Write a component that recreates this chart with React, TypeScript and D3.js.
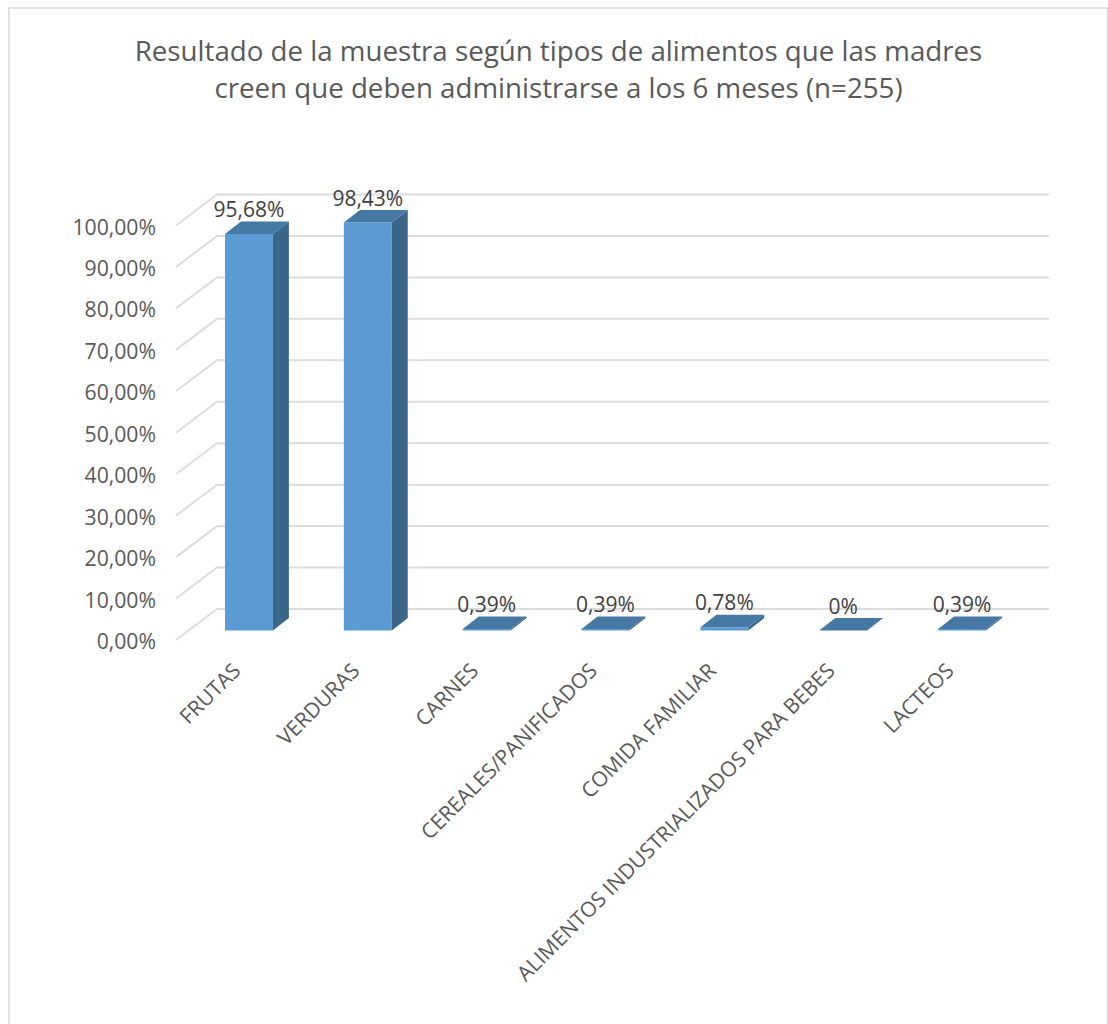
import React from "react";
import * as d3 from "d3";

const categories = [
  "FRUTAS",
  "VERDURAS",
  "CARNES",
  "CEREALES/PANIFICADOS",
  "COMIDA FAMILIAR",
  "ALIMENTOS INDUSTRIALIZADOS PARA BEBES",
  "LACTEOS",
];
const values = [95.68, 98.43, 0.39, 0.39, 0.78, 0, 0.39];
const valueLabels = ["95,68%", "98,43%", "0,39%", "0,39%", "0,78%", "0%", "0,39%"];
const ticks = [0, 10, 20, 30, 40, 50, 60, 70, 80, 90, 100];
const titleLines = [
  "Resultado de la muestra según tipos de alimentos que las madres",
  "creen que deben administrarse a los 6 meses (n=255)",
];

const FONT = "'Open Sans', sans-serif";
const W = 1108;
const H = 1024;

// Plot geometry: the floor's front edge, the depth of the back wall, and the
// shallower depth of each bar, which stands midway on the floor.
const frontLeft = 176;
const floorFrontY = 640;
const wallDx = 41;
const wallDy = 31;
const wallRight = 1049;
const baseY = 630.5;
const barDx = 16;
const barDy = 12.5;
const unitHeight = 414.5;

const gridY = d3.scaleLinear().domain([0, 100]).range([floorFrontY, floorFrontY - unitHeight]);
const y = d3.scaleLinear().domain([0, 100]).range([baseY, baseY - unitHeight]);
const x = d3.scaleBand<string>().domain(categories).range([225, 986]).paddingInner(0.597).paddingOuter(0);

const num = (v: number) => `${v.toFixed(2).replace(".", ",")}%`;

export default function App() {
  const grid = "#dcdcdc";
  return (
    <svg
      width={W}
      height={H}
      style={{ position: "absolute", left: 0, top: 0, display: "block" }}
      fontFamily={FONT}
    >
      <rect x={0} y={0} width={W} height={H} fill="#fff" />
      <path d={`M9 1024V8H1107.5V1024`} fill="none" stroke="#d9d9d9" strokeWidth={1.5} />

      {titleLines.map((t, i) => (
        <text key={i} x={558.5} y={61 + i * 37} textAnchor="middle" fontSize={27.7} fill="#595959">
          {t}
        </text>
      ))}

      {ticks.map((t) => {
        const py = gridY(t);
        return (
          <g key={t}>
            <path
              d={`M${frontLeft} ${py}L${frontLeft + wallDx} ${py - wallDy}H${wallRight}`}
              fill="none"
              stroke={grid}
              strokeWidth={2}
            />
            <text x={156} y={py + 9} textAnchor="end" fontSize={21.2} fill="#595959">
              {num(t)}
            </text>
          </g>
        );
      })}

      {categories.map((c, i) => {
        const v = values[i];
        const x0 = x(c)!;
        const x1 = x0 + x.bandwidth();
        const top = y(v);
        return (
          <g key={c}>
            <rect x={x0} y={top} width={x.bandwidth()} height={baseY - top} fill="#5b9bd5" />
            <path
              d={`M${x1} ${top}L${x1 + barDx} ${top - barDy}V${baseY - barDy}L${x1} ${baseY}Z`}
              fill="#3a6689"
            />
            <path
              d={`M${x0} ${top}L${x0 + barDx} ${top - barDy}H${x1 + barDx}L${x1} ${top}Z`}
              fill="#4678a4"
            />
          </g>
        );
      })}

      {categories.map((c, i) => (
        <text
          key={c}
          x={x(c)! + x.bandwidth() / 2}
          y={y(values[i]) - 17}
          textAnchor="middle"
          fontSize={21}
          fill="#404040"
        >
          {valueLabels[i]}
        </text>
      ))}

      {categories.map((c) => {
        const cx = x(c)! + x.bandwidth() / 2 - 7;
        return (
          <text
            key={c}
            transform={`translate(${cx},672) rotate(-45)`}
            textAnchor="end"
            fontSize={21}
            fill="#595959"
          >
            {c}
          </text>
        );
      })}
    </svg>
  );
}
